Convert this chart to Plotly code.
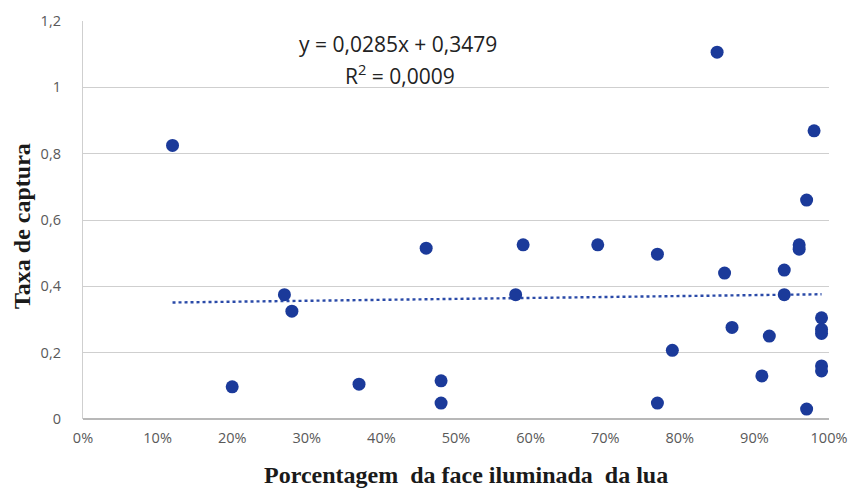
import plotly.graph_objects as go

# Data (fraction of moon illuminated, capture rate)
moon_pct = [0.12, 0.20, 0.27, 0.28, 0.37, 0.46, 0.48, 0.48, 0.58, 0.59,
            0.69, 0.77, 0.77, 0.79, 0.85, 0.86, 0.87, 0.91, 0.92, 0.94,
            0.94, 0.96, 0.96, 0.97, 0.98, 0.97, 0.99, 0.99, 0.99, 0.99, 0.99]
capture = [0.825, 0.097, 0.375, 0.325, 0.105, 0.515, 0.115, 0.048, 0.375, 0.525,
           0.525, 0.497, 0.048, 0.207, 1.106, 0.44, 0.276, 0.13, 0.25, 0.449,
           0.375, 0.525, 0.512, 0.66, 0.869, 0.03, 0.305, 0.27, 0.258, 0.16, 0.145]

slope = 0.0285
intercept = 0.3479
trend_x = [min(moon_pct), max(moon_pct)]
trend_y = [slope * v + intercept for v in trend_x]

y_ticks = [0, 0.2, 0.4, 0.6, 0.8, 1.0, 1.2]
y_tick_text = ["0", "0,2", "0,4", "0,6", "0,8", "1", "1,2"]
x_ticks = [0, 0.1, 0.2, 0.3, 0.4, 0.5, 0.6, 0.7, 0.8, 0.9, 1.0]

x_title = "Porcentagem  da face iluminada  da lua"
y_title = "Taxa de captura"

fig = go.Figure()
fig.add_trace(go.Scatter(x=trend_x, y=trend_y, mode="lines",
                         line=dict(color="#2a4aa8", width=2.4, dash="dot"),
                         hoverinfo="skip", showlegend=False))
fig.add_trace(go.Scatter(x=moon_pct, y=capture, mode="markers",
                         marker=dict(color="#1b3a9a", size=13),
                         showlegend=False))

eq_font = dict(family="Open Sans, Liberation Sans", size=21, color="#222222")
fig.add_annotation(x=0.422, y=1.13, xref="x", yref="y",
                   text="y = 0,0285x + 0,3479", showarrow=False, font=eq_font)
fig.add_annotation(x=0.425, y=1.04, xref="x", yref="y",
                   text="R<sup>2</sup> = 0,0009", showarrow=False, font=eq_font)

title_font = dict(family="Liberation Serif, Times New Roman", size=24, color="#1a1a1a")
fig.add_annotation(x=0.5, y=0, xref="paper", yref="paper", xanchor="center", yanchor="middle",
                   xshift=10, yshift=-56, text="<b>" + x_title + "</b>", showarrow=False,
                   font=title_font)
fig.add_annotation(x=0, y=0.5, xref="paper", yref="paper", xanchor="center", yanchor="middle",
                   xshift=-61, yshift=-6, textangle=-90, text="<b>" + y_title + "</b>",
                   showarrow=False, font=title_font)

fig.update_layout(
    width=851, height=488,
    margin=dict(l=83, r=22, t=21, b=69),
    paper_bgcolor="white", plot_bgcolor="white",
    separators=",.",
    font=dict(family="Open Sans, Liberation Sans", size=14.5, color="#595959"),
)
fig.update_xaxes(range=[0, 1], tickvals=x_ticks, tickformat=".0%",
                 showgrid=False, zeroline=False, showline=False,
                 ticks="", ticklabelstandoff=8, automargin=False)
fig.update_yaxes(range=[0, 1.2], tickmode="array", tickvals=y_ticks, ticktext=y_tick_text,
                 showgrid=True, gridcolor="#cfcfcf", gridwidth=1.3,
                 zeroline=True, zerolinecolor="#b8b8b8", zerolinewidth=1.5,
                 showline=True, linecolor="#cfcfcf", linewidth=1.3,
                 ticks="", ticklabelstandoff=18, automargin=False)

fig.write_html("out.html", config={"displayModeBar": False},
               post_script="document.body.style.margin='0';document.body.style.overflow='hidden';")
